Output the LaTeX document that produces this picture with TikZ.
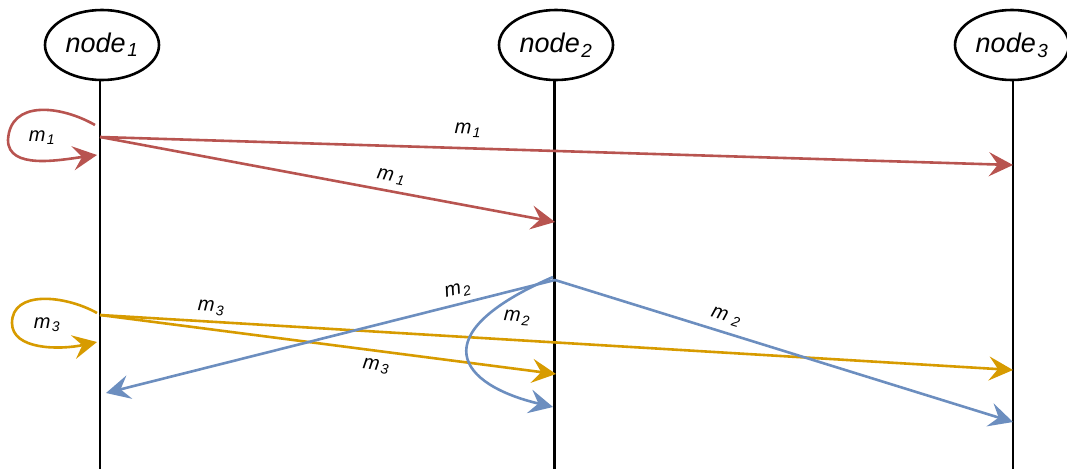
\documentclass[tikz,border=0pt]{standalone}
\usepackage{fontspec}
\setmainfont{Liberation Sans}
\usetikzlibrary{arrows.meta,shapes.geometric}
\definecolor{cred}{HTML}{B85450}
\definecolor{corange}{HTML}{D79B00}
\definecolor{cblue}{HTML}{6C8EBF}
\newcommand\msub[2]{#1\kern1.5pt\textsubscript{#2}}
\newcommand\msubw[3]{#1\kern#3\textsubscript{#2}}
\tikzset{
  actor/.style={ellipse,draw=black,line width=2.6pt,minimum width=114pt,minimum height=70pt,inner sep=0pt,font=\fontsize{27}{30}\selectfont\itshape},
  lifeline/.style={draw=black,line width=2.6pt},
  msg/.style={line width=2.6pt,-{Stealth[length=24pt,width=24pt,inset=9pt]}},
  mlabel/.style={font=\fontsize{20}{22}\selectfont\itshape,inner sep=0pt,anchor=center},
}
\begin{document}
\begin{tikzpicture}[x=1pt,y=-1pt]
\useasboundingbox (0,0) rectangle (1067,468);
% actors
\node[actor] (n1) at (102,45) {\msub{node}{1}};
\node[actor] (n2) at (556,45) {\msub{node}{2}};
\node[actor] (n3) at (1012,45) {\msub{node}{3}};
\coordinate (e1) at (100,470);
\coordinate (e2) at (554.5,470);
\coordinate (e3) at (1013,470);
\draw[lifeline] (n1.south -| e1) -- (e1);
\draw[lifeline] (n2.south -| e2) -- (e2);
\draw[lifeline] (n3.south -| e3) -- (e3);
% points on lifelines
\coordinate (a1) at (100,137);
\coordinate (a1s) at (95,125);
\coordinate (a1t) at (97,155);
\coordinate (b2) at (555,222);
\coordinate (c3) at (1013,165);
\coordinate (a3) at (100,315);
\coordinate (a3s) at (97,313);
\coordinate (a3t) at (97,342);
\coordinate (b3) at (556,374);
\coordinate (c33) at (1013,370);
\coordinate (b2s) at (555,280);
\coordinate (b2cs) at (553,277);
\coordinate (a2) at (106,393);
\coordinate (b2t) at (553,407);
\coordinate (c2) at (1013,422);
% red (m1)
\draw[msg,cred] (a1s) .. controls (60,105) and (10,100) .. (8,140) .. controls (8,170) and (60,160) .. (a1t);
\draw[msg,cred] (a1) -- (c3);
\draw[msg,cred] (a1) -- (b2);
\node[mlabel] (l1a) at (42,138) {\msub{m}{1}};
\node[mlabel,rotate=-1.8] (l1b) at (468,130) {\msub{m}{1}};
\node[mlabel,rotate=-10.6] (l1c) at (391,177) {\msubw{m}{1}{3.5pt}};
% orange (m3)
\draw[msg,corange] (a3s) .. controls (65,295) and (12,290) .. (12,323) .. controls (12,350) and (60,350) .. (a3t);
\draw[msg,corange] (a3) -- (c33);
\draw[msg,corange] (a3) -- (b3);
\node[mlabel] (l3a) at (47,325) {\msub{m}{3}};
\node[mlabel,rotate=-3.4] (l3b) at (211,308) {\msub{m}{3}};
\node[mlabel,rotate=-7.3] (l3c) at (376,366) {\msub{m}{3}};
% blue (m2)
\draw[msg,cblue] (b2s) -- (a2);
\draw[msg,cblue] (b2cs) .. controls (420,335) and (460,385) .. (b2t);
\draw[msg,cblue] (b2s) -- (c2);
\node[mlabel,rotate=14.2] (l2a) at (458,291) {\msub{m}{2}};
\node[mlabel,rotate=-4] (l2b) at (517,318) {\msub{m}{2}};
\node[mlabel,rotate=-17.2] (l2c) at (726,317) {\msubw{m}{2}{5.5pt}};
\end{tikzpicture}
\end{document}
